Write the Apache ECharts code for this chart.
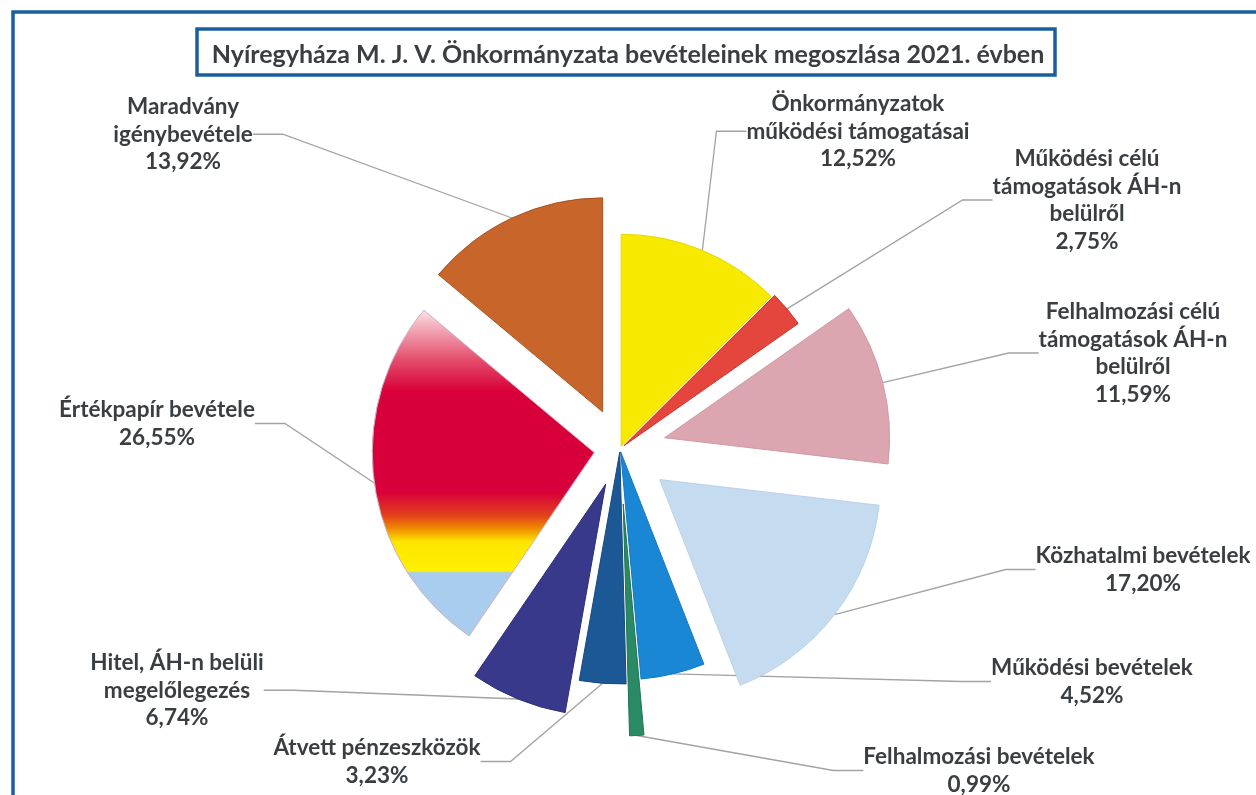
<!DOCTYPE html>
<html>
<head>
<meta charset="utf-8">
<script src="https://cdn.jsdelivr.net/npm/echarts@6/dist/echarts.min.js"></script>
<style>
html,body{margin:0;padding:0;background:#fff;}
#chart{width:1256px;height:795px;}
</style>
</head>
<body>
<div id="chart"></div>
<script>
// ---- data ----
const titleText = 'Nyíregyháza M. J. V. Önkormányzata bevételeinek megoszlása 2021. évben';
const categories = [
  'Önkormányzatok\nműködési támogatásai',
  'Működési célú\ntámogatások ÁH-n\nbelülről',
  'Felhalmozási célú\ntámogatások ÁH-n\nbelülről',
  'Közhatalmi bevételek',
  'Működési bevételek',
  'Felhalmozási bevételek',
  'Átvett pénzeszközök',
  'Hitel, ÁH-n belüli\nmegelőlegezés',
  'Értékpapír bevétele',
  'Maradvány\nigénybevétele'
];
const values = [12.52, 2.75, 11.59, 17.20, 4.52, 0.99, 3.23, 6.74, 26.55, 13.92];

// ---- style / layout ----
const sliceColors = [
  '#f7e900', '#e4463d', '#dba6b0', '#c5dbf0', '#1a87d5',
  '#2a8a66', '#1b5895', '#39398b',
  {type:'linear', x:0, y:0, x2:0, y2:1, colorStops:[
    {offset:0, color:'#fbe6ea'}, {offset:0.05, color:'#f3b0bd'},
    {offset:0.15, color:'#e4516f'}, {offset:0.25, color:'#d8003a'},
    {offset:0.56, color:'#d8003a'}, {offset:0.63, color:'#e3421c'},
    {offset:0.67, color:'#f08c00'}, {offset:0.71, color:'#fde500'},
    {offset:0.80, color:'#fff100'}, {offset:0.805, color:'#a9cdee'},
    {offset:1, color:'#a9cdee'}]},
  '#c8652b'
];
const borderColors = ['#e8d800','#c9352d','#d29aa6','#bcd2ea','#1578c0','#1f7552','#164a80','#2d2d78','#d0b0c0','#a9531f'];
const explode = [3, 5, 46, 50, 3, 55, 3, 38, 26, 41];
const radii = [212, 213, 225, 221, 228, 232, 232, 232, 222, 214];
const labelPos = [[858, 90], [1087, 145], [1133, 298], [1143, 542], [1092, 654],
                  [979, 743], [377, 734], [177, 649], [157, 396], [183, 93]];
const pieCenter = [620, 449];
const textColor = '#3a3e41';
const fontFamily = 'Lato, "Open Sans", sans-serif';
const frameBlue = '#1b5e9e';

function fmt(v){ return v.toFixed(2).replace('.', ',') + '%'; }

const total = values.reduce((a, b) => a + b, 0);
let cum = 0;
const series = values.map((v, i) => {
  const mid = (cum + v / 2) / total * Math.PI * 2; // clockwise from 12 o'clock
  cum += v;
  const c = [pieCenter[0] + Math.sin(mid) * explode[i], pieCenter[1] - Math.cos(mid) * explode[i]];
  return {
    type: 'pie',
    center: c,
    radius: [0, radii[i]],
    startAngle: 90,
    clockwise: true,
    avoidLabelOverlap: false,
    silent: true,
    animation: false,
    label: {
      show: true,
      color: textColor,
      fontFamily: fontFamily,
      fontWeight: 'bold',
      fontSize: 22.5,
      lineHeight: 27.5,
      formatter: p => p.name + '\n' + fmt(p.value)
    },
    labelLine: { show: true, lineStyle: { color: '#a3a3a3', width: 1.3 } },
    labelLayout: function () {
      return { x: labelPos[i][0], y: labelPos[i][1], align: 'center', verticalAlign: 'top' };
    },
    data: values.map((val, j) => ({
      value: val,
      name: categories[j],
      itemStyle: j === i
        ? { color: sliceColors[j], borderColor: borderColors[j], borderWidth: 1 }
        : { color: 'rgba(0,0,0,0)', borderWidth: 0 },
      label: { show: j === i },
      labelLine: { show: j === i }
    }))
  };
});

const chart = echarts.init(document.getElementById('chart'));
chart.setOption({
  backgroundColor: '#ffffff',
  animation: false,
  title: {
    text: titleText,
    left: 'center',
    top: 37,
    textStyle: { color: textColor, fontFamily: fontFamily, fontWeight: 'bold', fontSize: 25 }
  },
  graphic: [
    { type: 'rect', shape: { x: 13, y: 12, width: 1300, height: 850 },
      style: { fill: 'none', stroke: frameBlue, lineWidth: 3.5 }, z: 0, silent: true },
    { type: 'rect', shape: { x: 197, y: 29, width: 858, height: 46 },
      style: { fill: '#fff', stroke: frameBlue, lineWidth: 3.5 }, z: -1, silent: true }
  ],
  series: series
});
</script>
</body>
</html>
